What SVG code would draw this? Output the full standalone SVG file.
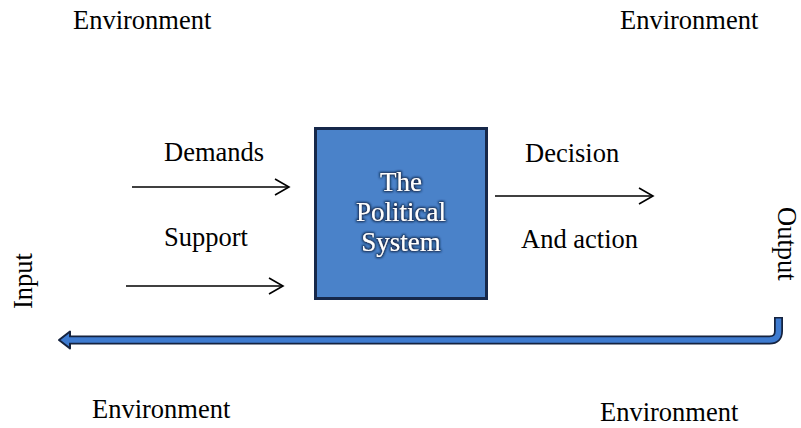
<svg xmlns="http://www.w3.org/2000/svg" width="801" height="428" viewBox="0 0 801 428">
  <style>
    .t { font-family: "Liberation Serif", "Times New Roman", serif; font-size: 26.5px; fill: #000; }
    .w { font-family: "Liberation Serif", "Times New Roman", serif; font-size: 27px; fill: #fff; text-anchor: middle; }
    .ln { stroke: #000; stroke-width: 1.6; fill: none; }
    .hd { stroke: #000; stroke-width: 1.6; fill: none; stroke-linejoin: miter; }
  </style>
  <defs>
    <filter id="glow" x="-20%" y="-20%" width="140%" height="140%">
      <feMorphology in="SourceAlpha" operator="dilate" radius="0.8" result="d"/>
      <feGaussianBlur in="d" stdDeviation="1.2" result="b"/>
      <feFlood flood-color="#0d1f40" flood-opacity="0.9"/>
      <feComposite in2="b" operator="in" result="s"/>
      <feMerge><feMergeNode in="s"/><feMergeNode in="SourceGraphic"/></feMerge>
    </filter>
  </defs>
  <rect width="801" height="428" fill="#fff"/>

  <g id="labels">
    <text class="t" x="73" y="29">Environment</text>
    <text class="t" x="620" y="29">Environment</text>
    <text class="t" x="92" y="418">Environment</text>
    <text class="t" x="600" y="421">Environment</text>
    <text class="t" x="164" y="161">Demands</text>
    <text class="t" x="164" y="246">Support</text>
    <text class="t" x="525" y="162">Decision</text>
    <text class="t" x="521" y="248">And action</text>
    <text class="t" transform="translate(32,309) rotate(-90)">Input</text>
    <text class="t" transform="translate(778,207) rotate(90)" font-size="25">Output</text>
  </g>

  <g id="political-system">
    <rect x="315.5" y="128.5" width="171" height="170" fill="#4a82c9" stroke="#16284a" stroke-width="3"/>
    <g filter="url(#glow)">
      <text class="w" x="401" y="191">The</text>
      <text class="w" x="401" y="221">Political</text>
      <text class="w" x="401" y="251">System</text>
    </g>
  </g>

  <g id="connectors">
    <line class="ln" x1="132" y1="187" x2="288" y2="187"/>
    <polyline class="hd" points="275,179 289,187 275,195"/>
    <line class="ln" x1="126" y1="286" x2="282" y2="286"/>
    <polyline class="hd" points="269,278 283,286 269,294"/>
    <line class="ln" x1="495" y1="196" x2="652" y2="196"/>
    <polyline class="hd" points="639,188 653,196 639,204"/>

    <g id="feedback">
      <path d="M778.5 317 V331 Q778.5 340 769.5 340 H68" fill="none" stroke="#15233f" stroke-width="9"/>
      <polygon points="59,340 70,331.5 70,348.5" fill="#3e7bd0" stroke="#15233f" stroke-width="2" stroke-linejoin="round"/>
      <path d="M778.5 318.5 V331 Q778.5 340 769.5 340 H69" fill="none" stroke="#3e7bd0" stroke-width="5.5"/>
    </g>
  </g>
</svg>
